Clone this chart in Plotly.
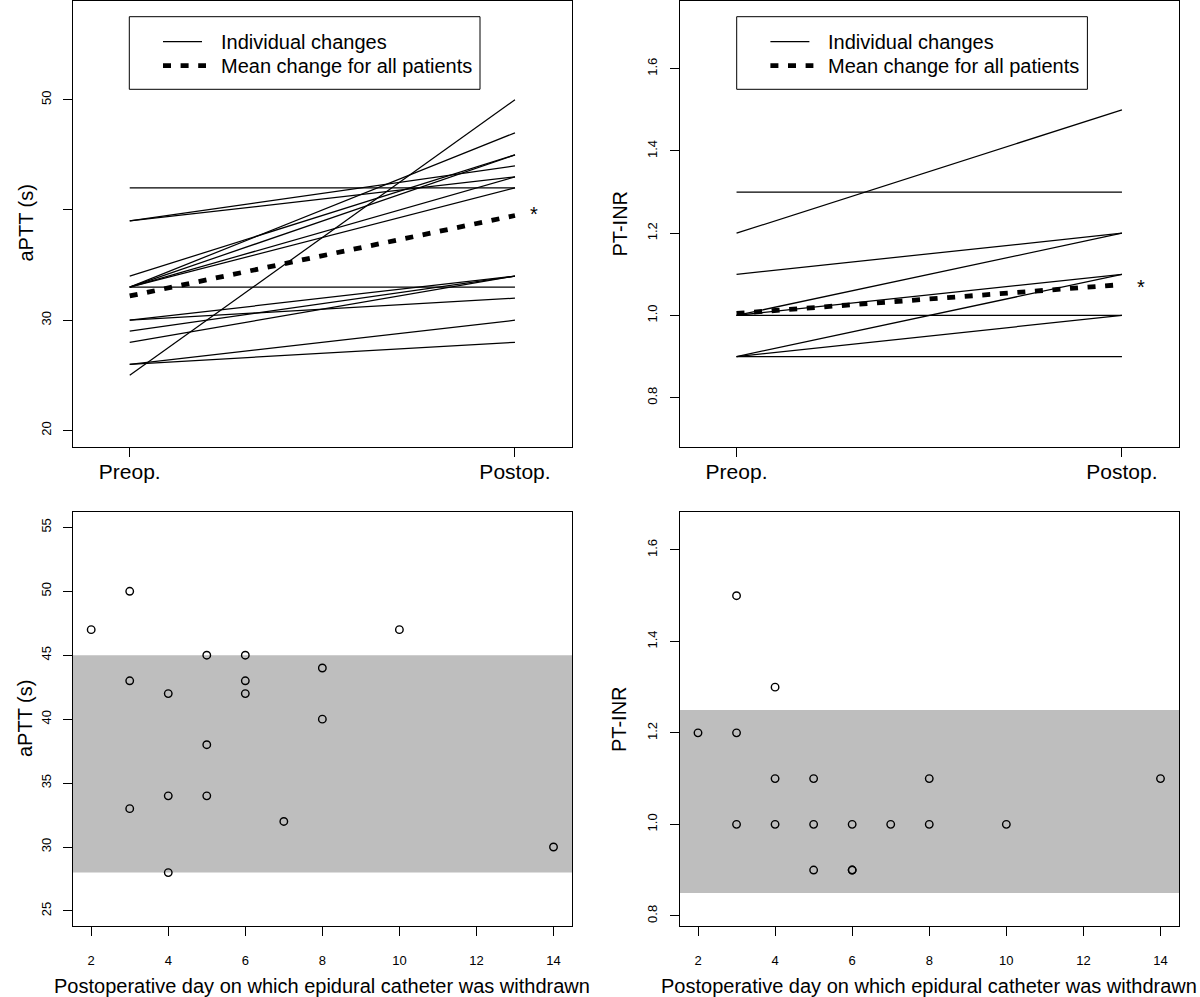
import plotly.graph_objects as go

W, H = 1200, 997

# ---------------- data ----------------
# Top-left: aPTT (s), individual pre/post-operative values
aptt_pre = [42, 39, 39, 34, 33, 33, 33, 33, 33, 25, 30, 30, 29, 28, 26, 26]
aptt_post = [42, 44, 43, 45, 47, 45, 43, 42, 33, 50, 34, 32, 34, 34, 30, 28]
aptt_mean = [32.2, 39.5]

# Top-right: PT-INR, individual pre/post-operative values
inr_pre = [1.2, 1.3, 1.1, 1.0, 1.0, 1.0, 0.9, 0.9, 0.9]
inr_post = [1.5, 1.3, 1.2, 1.2, 1.1, 1.0, 1.1, 1.0, 0.9]
inr_mean = [1.005, 1.075]

period_labels = ["Preop.", "Postop."]
period_pos = [1, 2]

# Bottom: value on the day the epidural catheter was withdrawn
days = [2, 3, 3, 3, 4, 4, 4, 5, 5, 5, 6, 6, 6, 7, 8, 8, 10, 14]
aptt_withdraw = [47, 50, 43, 33, 42, 34, 28, 45, 38, 34, 45, 43, 42, 32, 44, 40, 47, 30]
inr_withdraw = [1.2, 1.5, 1.2, 1.0, 1.3, 1.1, 1.0, 1.1, 1.0, 0.9, 1.0, 0.9, 0.9, 1.0, 1.1, 1.0, 1.0, 1.1]

aptt_normal = [28, 45]
inr_normal = [0.85, 1.25]

aptt_ticks = [20, 30, 40, 50]
aptt_ticktext = ["20", "30", "", "50"]
inr_ticks = [0.8, 1.0, 1.2, 1.4, 1.6]
aptt_ticks2 = [25, 30, 35, 40, 45, 50, 55]
day_ticks = [2, 4, 6, 8, 10, 12, 14]

# ---------------- helpers ----------------
FONT = "Liberation Sans, Arial, Helvetica, sans-serif"


def px(x):
    return x / W


def py(y):
    return 1 - y / H


def seg(pre, post):
    xs, ys = [], []
    for a, b in zip(pre, post):
        xs += [period_pos[0], period_pos[1], None]
        ys += [a, b, None]
    return xs, ys


def txt(text, x, y, size=20, angle=0, xanchor="center"):
    return dict(text=text, xref="paper", yref="paper", x=px(x), y=py(y),
                xanchor=xanchor, yanchor="middle", textangle=angle, showarrow=False,
                font=dict(size=size, color="black", family=FONT))


# panel boxes (pixels)
TLx, TRx = (72.7, 572.0), (679.5, 1179.0)
TOPy, BOTy = (0.5, 447.0), (512.0, 926.3)

DOT = "8px,9.6px"

fig = go.Figure()

# individual lines
xs, ys = seg(aptt_pre, aptt_post)
fig.add_trace(go.Scatter(x=xs, y=ys, mode="lines", line=dict(color="black", width=1.25),
                         xaxis="x", yaxis="y", showlegend=False, hoverinfo="skip"))
fig.add_trace(go.Scatter(x=period_pos, y=aptt_mean, mode="lines",
                         line=dict(color="black", width=4.8, dash=DOT),
                         xaxis="x", yaxis="y", showlegend=False))
xs, ys = seg(inr_pre, inr_post)
fig.add_trace(go.Scatter(x=xs, y=ys, mode="lines", line=dict(color="black", width=1.25),
                         xaxis="x2", yaxis="y2", showlegend=False, hoverinfo="skip"))
fig.add_trace(go.Scatter(x=period_pos, y=inr_mean, mode="lines",
                         line=dict(color="black", width=4.8, dash=DOT),
                         xaxis="x2", yaxis="y2", showlegend=False))

# scatter points
for xa, ya, vals in (("x3", "y3", aptt_withdraw), ("x4", "y4", inr_withdraw)):
    fig.add_trace(go.Scatter(x=days, y=vals, mode="markers",
                             marker=dict(symbol="circle-open", size=7.5, color="black",
                                         line=dict(width=1.4, color="black")),
                             xaxis=xa, yaxis=ya, showlegend=False))

shapes = []
annotations = []

# normal-range bands
shapes.append(dict(type="rect", xref="x3 domain", yref="y3", x0=0, x1=1,
                   y0=aptt_normal[0], y1=aptt_normal[1], fillcolor="#BEBEBE",
                   line=dict(width=0), layer="below"))
shapes.append(dict(type="rect", xref="x4 domain", yref="y4", x0=0, x1=1,
                   y0=inr_normal[0], y1=inr_normal[1], fillcolor="#BEBEBE",
                   line=dict(width=0), layer="below"))

# legends (drawn manually to match the boxed base-graphics legend)
for dx, star_y in ((0.0, 214.0), (607.4, 287.0)):
    shapes.append(dict(type="rect", xref="paper", yref="paper",
                       x0=px(129.3 + dx), x1=px(480 + dx), y0=py(89.3), y1=py(16.7),
                       line=dict(color="black", width=1), fillcolor="white"))
    shapes.append(dict(type="line", xref="paper", yref="paper",
                       x0=px(163 + dx), x1=px(202 + dx), y0=py(41.7), y1=py(41.7),
                       line=dict(color="black", width=1.25)))
    shapes.append(dict(type="line", xref="paper", yref="paper",
                       x0=px(163 + dx), x1=px(206 + dx), y0=py(65.7), y1=py(65.7),
                       line=dict(color="black", width=4.8, dash=DOT)))
    annotations.append(txt("Individual changes", 219 + dx, 41.7, xanchor="left"))
    annotations.append(txt("Mean change for all patients", 219 + dx, 65.7, xanchor="left"))
    annotations.append(txt("*", 534 + dx, star_y))

# axis titles
annotations += [
    txt("aPTT (s)", 25, 223.5, angle=-90),
    txt("PT-INR", 619, 223.5, angle=-90),
    txt("aPTT (s)", 25, 719, angle=-90),
    txt("PT-INR", 619, 719, angle=-90),
    txt("Postoperative day on which epidural catheter was withdrawn", sum(TLx) / 2, 986),
    txt("Postoperative day on which epidural catheter was withdrawn", sum(TRx) / 2, 986),
]


def axis_common(**kw):
    d = dict(showline=True, mirror=True, linecolor="black", linewidth=1, ticks="outside",
             ticklen=9, tickwidth=1, tickcolor="black", showgrid=False, zeroline=False,
             automargin=False, tickfont=dict(size=13, color="black", family=FONT))
    d.update(kw)
    return d


BIG = dict(size=21, color="black", family=FONT)

layout = dict(
    template="none",
    width=W, height=H, margin=dict(l=0, r=0, t=0, b=0, pad=0), autosize=False,
    paper_bgcolor="white", plot_bgcolor="white", font=dict(family=FONT, color="black"),
    showlegend=False, shapes=shapes, annotations=annotations,
    xaxis=axis_common(domain=[px(TLx[0]), px(TLx[1])], anchor="y", range=[0.852, 2.148],
                      tickvals=period_pos, ticktext=period_labels, tickfont=BIG,
                      ticklabelstandoff=-3),
    yaxis=axis_common(domain=[py(TOPy[1]), py(TOPy[0])], anchor="x", range=[18.5, 59.0],
                      tickvals=aptt_ticks, ticktext=aptt_ticktext, tickangle=-90,
                      ticklabelstandoff=7),
    xaxis2=axis_common(domain=[px(TRx[0]), px(TRx[1])], anchor="y2", range=[0.852, 2.148],
                       tickvals=period_pos, ticktext=period_labels, tickfont=BIG,
                       ticklabelstandoff=-3),
    yaxis2=axis_common(domain=[py(TOPy[1]), py(TOPy[0])], anchor="x2", range=[0.68, 1.766],
                       tickvals=inr_ticks, tickformat=".1f", tickangle=-90,
                       ticklabelstandoff=7),
    xaxis3=axis_common(domain=[px(TLx[0]), px(TLx[1])], anchor="y3", range=[1.52, 14.48],
                       tickvals=day_ticks, ticklabelstandoff=13),
    yaxis3=axis_common(domain=[py(BOTy[1]), py(BOTy[0])], anchor="x3", range=[23.8, 56.2],
                       tickvals=aptt_ticks2, tickangle=-90, ticklabelstandoff=7),
    xaxis4=axis_common(domain=[px(TRx[0]), px(TRx[1])], anchor="y4", range=[1.52, 14.48],
                       tickvals=day_ticks, ticklabelstandoff=13),
    yaxis4=axis_common(domain=[py(BOTy[1]), py(BOTy[0])], anchor="x4", range=[0.777, 1.683],
                       tickvals=inr_ticks, tickformat=".1f", tickangle=-90,
                       ticklabelstandoff=7),
)
fig.update_layout(**layout)

# remove the browser's default 8px page margin so the 1200x997 figure fills the window
fig.write_html("out.html", config={"displayModeBar": False},
               post_script="document.body.style.margin='0';document.body.style.overflow='hidden';")
